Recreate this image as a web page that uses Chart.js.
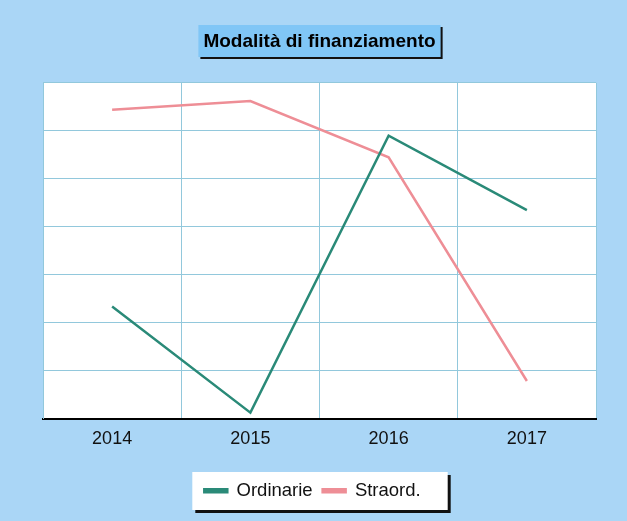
<!DOCTYPE html>
<html>
<head>
<meta charset="utf-8">
<script src="https://cdn.jsdelivr.net/npm/chart.js@4/dist/chart.umd.min.js"></script>
<style>
  html, body { margin: 0; padding: 0; background: #aad6f6; }
  #wrap { width: 627px; height: 521px; }
</style>
</head>
<body>
<div id="wrap"><canvas id="finChart"></canvas></div>
<script>
const anni = ['2014', '2015', '2016', '2017'];
const ordinarie = [2.34, 0.13, 5.9, 4.35];
const straord = [6.44, 6.62, 5.45, 0.79];

const FONT = '"Liberation Sans", Arial, sans-serif';

// sfondo, area del grafico bianca, riquadri per titolo e legenda
const boxes = {
  id: 'boxes',
  afterUpdate(chart) {
    // legenda leggermente spostata a sinistra
    const lg = chart.legend;
    lg.left -= 7;
    lg.right -= 7;
    lg.adjustHitBoxes();
  },
  beforeDraw(chart) {
    const ctx = chart.ctx;
    const a = chart.chartArea;
    ctx.save();
    ctx.fillStyle = '#aad6f6';
    ctx.fillRect(0, 0, chart.width, chart.height);
    ctx.fillStyle = '#ffffff';
    ctx.fillRect(a.left, a.top, a.right - a.left, a.bottom - a.top);

    // titolo
    ctx.font = 'bold 19px ' + FONT;
    const tw = ctx.measureText(chart.options.plugins.title.text).width;
    const cx = (a.left + a.right) / 2;
    const tx = cx - tw / 2 - 5;
    const ty = 25;
    ctx.fillStyle = '#111';
    ctx.fillRect(tx + 2, ty + 2, tw + 10, 32);
    ctx.fillStyle = '#80c6f6';
    ctx.fillRect(tx, ty, tw + 10, 32);

    // legenda
    const hb = chart.legend.legendHitBoxes;
    if (hb && hb.length) {
      const l = Math.min(...hb.map(h => h.left)) - 12;
      const r = Math.max(...hb.map(h => h.left + h.width)) + 27;
      const top = 472, h = 38;
      ctx.fillStyle = '#111';
      ctx.fillRect(l + 3, top + 3, r - l, h);
      ctx.fillStyle = '#ffffff';
      ctx.fillRect(l, top, r - l, h);
    }
    ctx.restore();
  }
};

new Chart(document.getElementById('finChart'), {
  type: 'line',
  data: {
    labels: anni,
    datasets: [{
      label: 'Ordinarie',
      data: ordinarie,
      borderColor: '#2a8a78',
      backgroundColor: '#2a8a78',
      borderWidth: 2.5,
      pointRadius: 0,
      tension: 0
    }, {
      label: 'Straord.',
      data: straord,
      borderColor: '#ee8e96',
      backgroundColor: '#ee8e96',
      borderWidth: 2.5,
      pointRadius: 0,
      tension: 0
    }]
  },
  options: {
    responsive: true,
    maintainAspectRatio: false,
    animation: false,
    layout: { padding: { left: 43, right: 31, top: 0, bottom: 11 } },
    scales: {
      x: {
        offset: true,
        grid: { color: '#92c8dc', drawTicks: false, offset: true },
        border: { color: '#000', width: 2 },
        ticks: {
          color: '#111',
          padding: 9,
          font: { family: FONT, size: 18 }
        },
        // spazio tra le etichette e la legenda
        afterFit(scale) { scale.height += 13; }
      },
      y: {
        min: 0,
        max: 7,
        ticks: { display: false, stepSize: 1 },
        grid: { color: '#92c8dc', drawTicks: false },
        border: { color: '#92c8dc' }
      }
    },
    plugins: {
      title: {
        display: true,
        text: 'Modalità di finanziamento',
        color: '#000',
        font: { family: FONT, size: 19, weight: 'bold' },
        padding: { top: 30, bottom: 30 }
      },
      legend: {
        position: 'bottom',
        labels: {
          color: '#111',
          boxWidth: 23,
          boxHeight: 3,
          padding: 10,
          font: { family: FONT, size: 18.5 }
        }
      },
      tooltip: { enabled: false }
    }
  },
  plugins: [boxes]
});
</script>
</body>
</html>
